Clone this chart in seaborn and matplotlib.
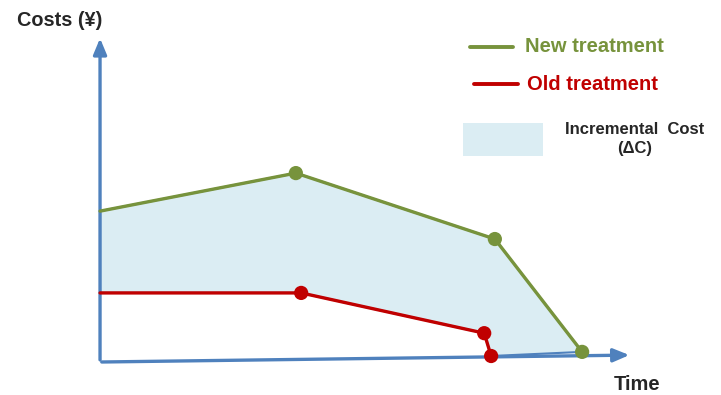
import matplotlib
matplotlib.use('Agg')
import matplotlib.pyplot as plt
import seaborn as sns
import pandas as pd
from matplotlib.patches import Polygon, Rectangle

# values (time / cost in arbitrary units)
new_time = [0.0, 3.68, 7.42, 9.06]
new_cost = [4.76, 5.96, 3.88, 0.32]
old_time = [0.0, 3.78, 7.22, 7.35]
old_cost = [2.18, 2.18, 0.91, 0.19]
axis_end = (10.0, 0.22)   # end of the slightly tilted time axis
cost_top = 10.3

GREEN = '#77933c'
RED = '#c00000'
BLUE = '#4f81bd'
FILL = '#dbedf3'

sns.set_style('white')
plt.rcParams['font.family'] = ['Liberation Sans', 'DejaVu Sans']

fig = plt.figure(figsize=(7.21, 3.95), dpi=100)
ax = fig.add_axes([0, 0, 1, 1])
ax.set_xlim(-1.88, 11.67)
ax.set_ylim(-1.04, 11.42)

# incremental cost area between the two curves
poly = [(t, c) for t, c in zip(new_time, new_cost)]
poly += [(t, c) for t, c in zip(old_time[::-1], old_cost[::-1])]
ax.add_patch(Polygon(poly, closed=True, facecolor=FILL, edgecolor=BLUE, lw=1.5, zorder=1))

# axes as arrows
ax.annotate('', xy=(0, cost_top), xytext=(0, -0.02),
            arrowprops=dict(arrowstyle='-|>,head_length=0.6,head_width=0.25', color=BLUE,
                            lw=2.4, mutation_scale=16), zorder=2)
ax.annotate('', xy=axis_end, xytext=(-0.02, 0),
            arrowprops=dict(arrowstyle='-|>,head_length=0.6,head_width=0.25', color=BLUE,
                            lw=2.4, mutation_scale=16), zorder=2)

df_new = pd.DataFrame({'time': new_time, 'cost': new_cost})
df_old = pd.DataFrame({'time': old_time, 'cost': old_cost})

sns.lineplot(data=df_new, x='time', y='cost', sort=False, color=GREEN, lw=2.4, ax=ax, zorder=3)
sns.lineplot(data=df_old, x='time', y='cost', sort=False, color=RED, lw=2.4, ax=ax, zorder=3)
sns.scatterplot(data=df_new.iloc[1:], x='time', y='cost', color=GREEN, s=105, edgecolor='none', ax=ax, zorder=4)
sns.scatterplot(data=df_old.iloc[1:], x='time', y='cost', color=RED, s=105, edgecolor='none', ax=ax, zorder=4)
ax.axis('off')

# labels
fig.text(17 / 721, 1 - 20 / 395, 'Costs (¥)', fontsize=14.3, fontweight='bold', va='center', ha='left')
fig.text(614 / 721, 1 - 385 / 395, 'Time', fontsize=14.5, fontweight='bold', va='center', ha='left')

# hand-drawn legend
fig.add_artist(plt.Line2D([470 / 721, 513 / 721], [1 - 47 / 395] * 2, color=GREEN, lw=2.8))
fig.text(525 / 721, 1 - 47 / 395, 'New treatment', color=GREEN, fontsize=14.5, fontweight='bold', va='center')
fig.add_artist(plt.Line2D([474 / 721, 518 / 721], [1 - 84 / 395] * 2, color=RED, lw=2.8))
fig.text(527 / 721, 1 - 84 / 395, 'Old treatment', color=RED, fontsize=14.5, fontweight='bold', va='center')
fig.add_artist(Rectangle((463 / 721, 1 - 156 / 395), 80 / 721, 33 / 395, facecolor=FILL,
                         edgecolor='none', transform=fig.transFigure))
fig.text(634.5 / 721, 1 - 129 / 395, 'Incremental  Cost', fontsize=12, fontweight='bold', va='center', ha='center')
fig.text(634.5 / 721, 1 - 148 / 395, '(ΔC)', fontsize=12, fontweight='bold', va='center', ha='center')

fig.savefig('out.png', dpi=100)
